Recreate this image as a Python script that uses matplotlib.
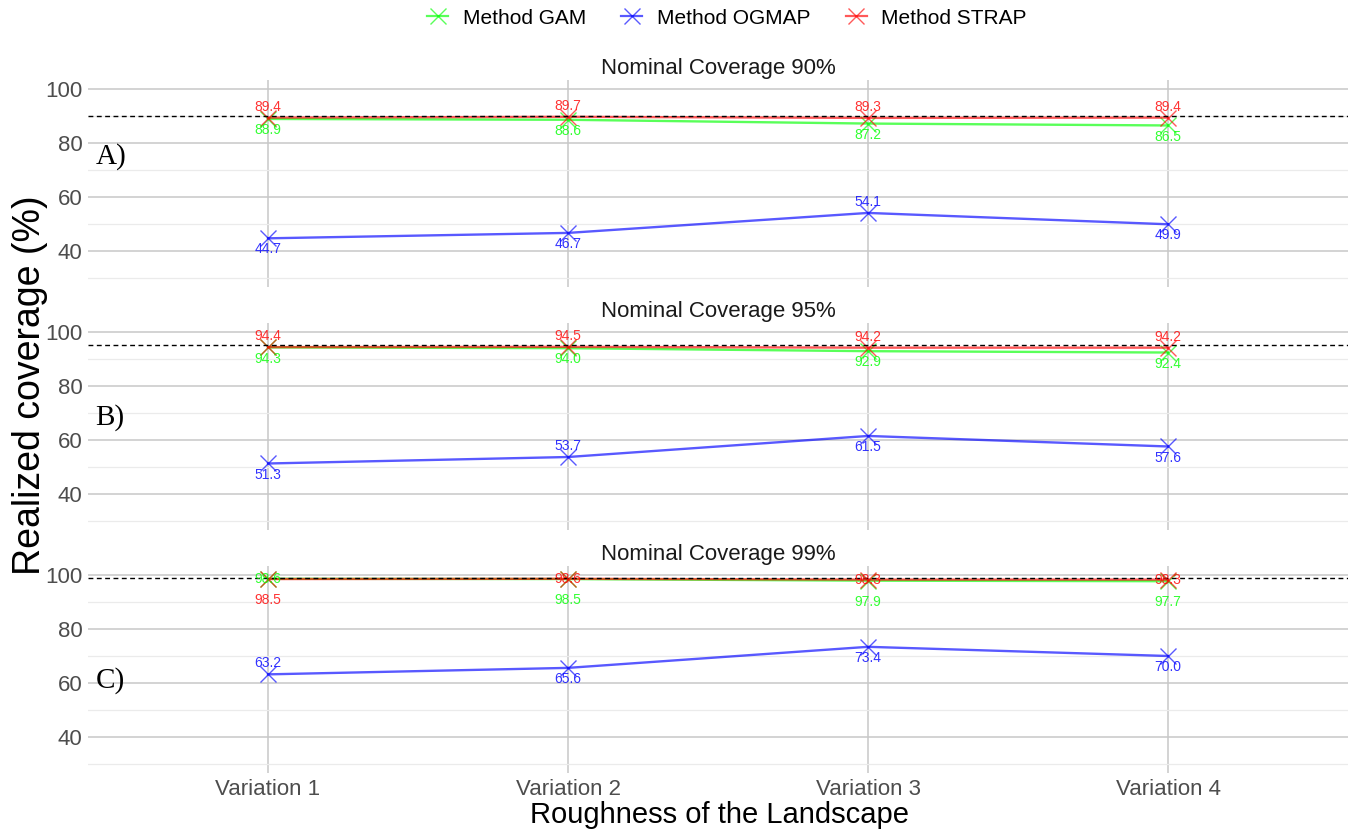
import matplotlib

matplotlib.use("Agg")

import matplotlib.pyplot as plt
from matplotlib.lines import Line2D

plt.rcParams["font.family"] = ["Liberation Sans", "DejaVu Sans"]

VARIATIONS = ["Variation 1", "Variation 2", "Variation 3", "Variation 4"]
NOMINAL = [90, 95, 99]
PANEL_TAGS = ["A)", "B)", "C)"]
TAG_Y = [75, 68.5, 61]

# realized coverage (%) per nominal level, one row per panel
GAM = [
    [88.9, 88.6, 87.2, 86.5],
    [94.3, 94.0, 92.9, 92.4],
    [98.6, 98.5, 97.9, 97.7],
]
OGMAP = [
    [44.7, 46.7, 54.1, 49.9],
    [51.3, 53.7, 61.5, 57.6],
    [63.2, 65.6, 73.4, 70.0],
]
STRAP = [
    [89.4, 89.7, 89.3, 89.4],
    [94.4, 94.5, 94.2, 94.2],
    [98.5, 98.6, 98.3, 98.3],
]

METHODS = [
    ("Method GAM", GAM, "#00ff00"),
    ("Method OGMAP", OGMAP, "#0000ff"),
    ("Method STRAP", STRAP, "#ff0000"),
]

# vertical label offsets in points (repel-style placement)
LABEL_OFFSETS = {
    "Method GAM": [[-8, -8, -8, -8], [-8, -8, -8, -8], [0, -15, -15, -15]],
    "Method OGMAP": [[-8, -8, 8, -8], [-8, 8, -8, -8], [8, -8, -8, -8]],
    "Method STRAP": [[8, 8, 8, 8], [8, 8, 8, 8], [-15, 0, 0, 0]],
}

W, H = 1357, 834
X_LEFT, X_RIGHT = 88, 1348
Y_LO, Y_HI = 26.5, 103.5
PX_PER_UNIT = 2.7
PANEL_100_PX = [89, 332, 575]


def panel_rect(y100):
    top = y100 - (Y_HI - 100) * PX_PER_UNIT
    height = (Y_HI - Y_LO) * PX_PER_UNIT
    return [X_LEFT / W, 1 - (top + height) / H, (X_RIGHT - X_LEFT) / W, height / H]


def draw_panel(ax, row, last):
    xs = list(range(1, len(VARIATIONS) + 1))
    ax.set_facecolor("white")
    for spine in ax.spines.values():
        spine.set_visible(False)
    ax.set_xlim(0.4, 4.6)
    ax.set_ylim(Y_LO, Y_HI)
    ax.set_yticks([40, 60, 80, 100])
    ax.set_yticks([30, 50, 70, 90], minor=True)
    ax.set_xticks(xs)
    ax.grid(True, which="major", color="#c8c8c8", linewidth=1.1)
    ax.grid(True, which="minor", axis="y", color="#ebebeb", linewidth=0.9)
    ax.tick_params(which="both", length=0, labelsize=16, labelcolor="#4d4d4d", pad=4)
    ax.set_axisbelow(True)
    if last:
        ax.set_xticklabels(VARIATIONS)
    else:
        ax.set_xticklabels([])

    ax.axhline(NOMINAL[row], color="black", linestyle=(0, (3.5, 2.5)), linewidth=1.0, zorder=4)

    for name, values, color in METHODS:
        ys = values[row]
        ax.plot(xs, ys, color=color, alpha=0.65, linewidth=1.7, marker="x",
                markersize=12, markeredgewidth=1.0, zorder=3)
        for x, y, dy in zip(xs, ys, LABEL_OFFSETS[name][row]):
            ax.annotate(f"{y:.1f}", (x, y), xytext=(0, dy), textcoords="offset points",
                        ha="center", va="center", fontsize=10, color=color, alpha=0.8, zorder=5)

    ax.text(0.425, TAG_Y[row], PANEL_TAGS[row], family="Liberation Serif", fontsize=21,
            ha="left", va="center")
    ax.set_title(f"Nominal Coverage {NOMINAL[row]}%", fontsize=16, color="#1a1a1a", pad=4)


fig = plt.figure(figsize=(W / 100, H / 100), dpi=100)
for row, y100 in enumerate(PANEL_100_PX):
    ax = fig.add_axes(panel_rect(y100))
    draw_panel(ax, row, row == len(PANEL_100_PX) - 1)

fig.text(30 / W, 1 - 385 / H, "Realized coverage (%)", rotation=90, fontsize=27,
         ha="center", va="center")
fig.text(719 / W, 1 - 815 / H, "Roughness of the Landscape", fontsize=21,
         ha="center", va="center")

handles = [
    Line2D([0], [0], color=color, alpha=0.65, linewidth=1.6, marker="x",
           markersize=12, markeredgewidth=1.0)
    for _, _, color in METHODS
]
fig.legend(handles, [m[0] for m in METHODS], loc="center", bbox_to_anchor=(727 / W, 1 - 18 / H),
           ncol=3, frameon=False, fontsize=15, handlelength=1.0, columnspacing=1.7,
           handletextpad=0.7)

fig.savefig("out.png", dpi=100)
